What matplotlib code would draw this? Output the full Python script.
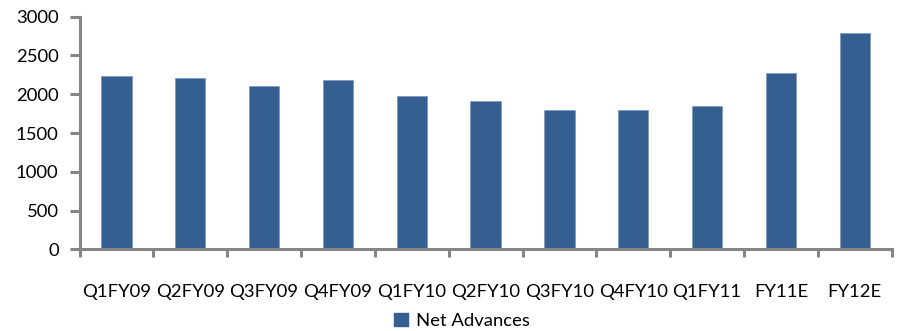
import matplotlib
matplotlib.use("Agg")
import matplotlib.pyplot as plt
from matplotlib.patches import Patch

categories = ["Q1FY09", "Q2FY09", "Q3FY09", "Q4FY09", "Q1FY10", "Q2FY10",
              "Q3FY10", "Q4FY10", "Q1FY11", "FY11E", "FY12E"]
net_advances = [2235, 2209, 2110, 2184, 1981, 1909, 1800, 1800, 1848, 2270, 2786]
y_ticks = [0, 500, 1000, 1500, 2000, 2500, 3000]

plt.rcParams['font.family'] = ['Lato', 'DejaVu Sans']

W, H = 897, 331
fig = plt.figure(figsize=(W / 100, H / 100), dpi=100)
ax = fig.add_axes([79.5 / W, 1 - 249.3 / H, (891.7 - 79.5) / W, (249.3 - 16.7) / H])

bar_color = "#365f91"
axis_color = "#868686"
x = list(range(len(categories)))
ax.bar(x, net_advances, width=0.41, color=bar_color, edgecolor="#7f9cc0",
       linewidth=0.6, zorder=2)

ax.set_xlim(-0.5, len(categories) - 0.5)
ax.set_ylim(0, 3000)
ax.set_yticks(y_ticks)
ax.set_yticklabels([str(v) for v in y_ticks])

# category boundary ticks on the x axis
ax.set_xticks([i - 0.5 for i in range(len(categories) + 1)])
ax.set_xticklabels([])
ax.set_xticks(x, minor=True)
ax.set_xticklabels(categories, minor=True)
ax.tick_params(axis='x', which='minor', length=0, pad=25, labelsize=13.3)
ax.tick_params(axis='x', which='major', length=6, width=2.2, color=axis_color)
ax.tick_params(axis='y', length=7, width=2.2, color=axis_color, pad=8, labelsize=13.3)

for side in ("top", "right"):
    ax.spines[side].set_visible(False)
for side in ("left", "bottom"):
    ax.spines[side].set_color(axis_color)
    ax.spines[side].set_linewidth(2.2)

fig.legend(handles=[Patch(facecolor=bar_color, edgecolor=bar_color, label="Net Advances")],
           loc="center", bbox_to_anchor=(462 / W, 1 - 321 / H), frameon=False,
           fontsize=13.3, handlelength=0.75, handleheight=0.75, handletextpad=0.4)

fig.savefig("out.png", dpi=100)
